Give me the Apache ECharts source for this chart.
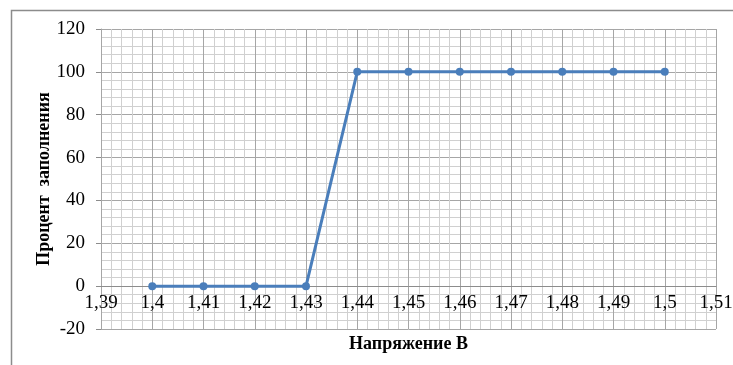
<!DOCTYPE html>
<html>
<head>
<meta charset="utf-8">
<script src="https://cdn.jsdelivr.net/npm/echarts@6/dist/echarts.min.js"></script>
<style>
  html, body { margin: 0; padding: 0; background: #fff; }
  #chart { width: 733px; height: 365px; }
</style>
</head>
<body>
<div id="chart"></div>
<script>
// Voltage (V) and fill percentage
const voltages = [1.40, 1.41, 1.42, 1.43, 1.44, 1.45, 1.46, 1.47, 1.48, 1.49, 1.50];
const fillPercent = [0, 0, 0, 0, 100, 100, 100, 100, 100, 100, 100];

const xTitle = 'Напряжение В';
const yTitle = 'Процент  заполнения';

const points = voltages.map((v, i) => [v, fillPercent[i]]);

const font = 'Liberation Serif';
const tickText = { fontFamily: font, fontSize: 19, color: '#000' };
const chart = echarts.init(document.getElementById('chart'));

chart.setOption({
  animation: false,
  graphic: [{
    type: 'rect',
    shape: { x: 11.5, y: 10.5, width: 800, height: 500 },
    style: { fill: 'none', stroke: '#8c8c8c', lineWidth: 1.5 },
    silent: true
  }],
  grid: { left: 101, right: 17, top: 29, bottom: 36, outerBoundsMode: 'none', containLabel: false },
  xAxis: {
    type: 'value',
    position: 'bottom',
    offset: -43,
    min: 1.39,
    max: 1.51,
    interval: 0.01,
    name: xTitle,
    nameLocation: 'middle',
    nameGap: 49,
    nameMoveOverlap: false,
    nameTextStyle: { fontFamily: font, fontSize: 18, fontWeight: 'bold', color: '#000' },
    axisLine: { onZero: false, lineStyle: { color: '#8c8c8c', width: 1 } },
    axisTick: { show: false },
    axisLabel: {
      fontFamily: font, fontSize: 19, color: '#000', margin: 8,
      formatter: v => '{t|' + String(Math.round(v * 100) / 100).replace('.', ',') + '}',
      rich: { t: tickText }
    },
    splitLine: { show: true, lineStyle: { color: '#a6a6a6', width: 1 } },
    minorTick: { show: false, splitNumber: 5 },
    minorSplitLine: { show: true, lineStyle: { color: '#d0d0d0', width: 1 } }
  },
  yAxis: {
    type: 'value',
    min: -20,
    max: 120,
    interval: 20,
    name: yTitle,
    nameLocation: 'middle',
    nameGap: 48,
    nameRotate: 90,
    nameMoveOverlap: false,
    nameTextStyle: { fontFamily: font, fontSize: 18, fontWeight: 'bold', color: '#000' },
    axisLine: { show: true, lineStyle: { color: '#a6a6a6', width: 1 } },
    axisTick: { show: true, length: 5, lineStyle: { color: '#8c8c8c' } },
    axisLabel: {
      fontFamily: font, fontSize: 19, color: '#000', margin: 16,
      formatter: v => '{t|' + v + '}',
      rich: { t: tickText }
    },
    splitLine: { show: true, lineStyle: { color: '#a6a6a6', width: 1 } },
    minorTick: { show: false, splitNumber: 5 },
    minorSplitLine: { show: true, lineStyle: { color: '#d0d0d0', width: 1 } }
  },
  series: [{
    type: 'line',
    data: points,
    symbol: 'circle',
    symbolSize: 8,
    showSymbol: true,
    lineStyle: { color: '#4a7ebb', width: 3 },
    itemStyle: { color: '#4a7ebb' }
  }]
});
</script>
</body>
</html>
